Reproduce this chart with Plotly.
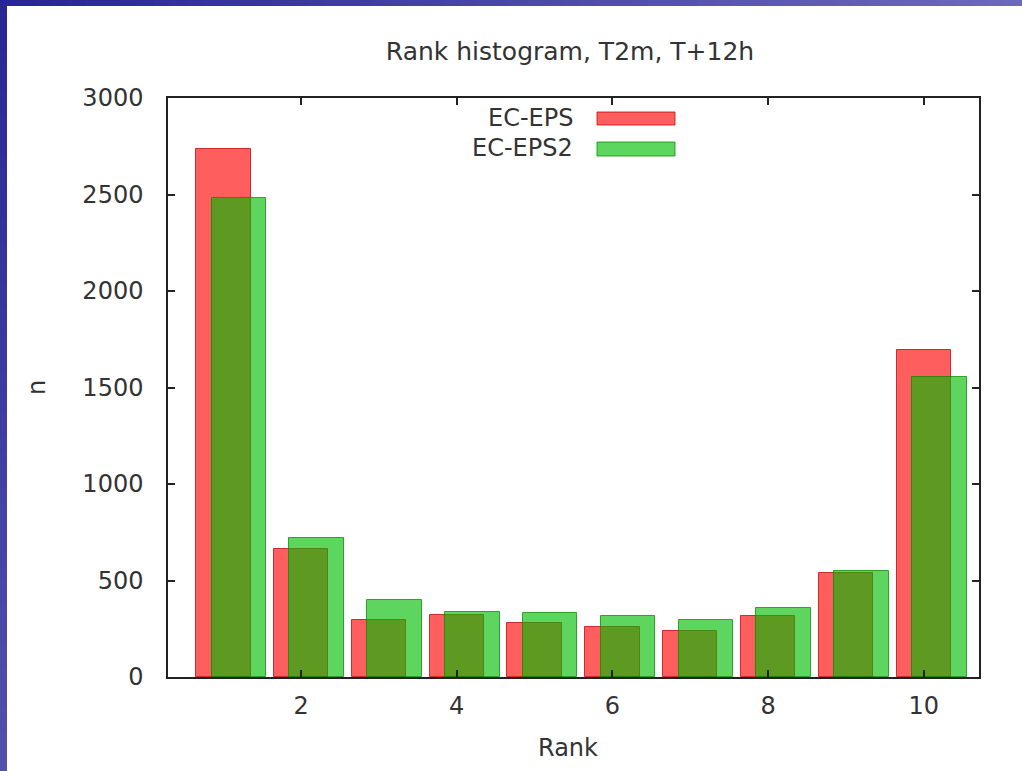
import plotly.graph_objects as go

# Rank histogram counts for 2 m temperature at T+12h
ranks = [1, 2, 3, 4, 5, 6, 7, 8, 9, 10]
ec_eps = [2736, 663, 297, 323, 281, 257, 240, 314, 537, 1692]
ec_eps2 = [2480, 720, 397, 338, 330, 314, 297, 355, 547, 1557]
series_names = ["EC-EPS", "EC-EPS2"]
y_ticks = [0, 500, 1000, 1500, 2000, 2500, 3000]
x_ticks = [2, 4, 6, 8, 10]

W, H = 1022, 771
L, R, T, B = 168, 43, 98, 94
PW, PH = W - L - R, H - T - B

FONT = "DejaVu Sans"
TXT = "#333333"
RED_FILL = "rgba(255,0,0,0.63)"
RED_LINE = "rgba(190,0,0,0.75)"
GREEN_FILL = "rgba(0,188,0,0.63)"
GREEN_LINE = "rgba(0,140,0,0.75)"


def px_x(px):
    return (px - L) / PW


def px_y(py):
    return (H - B - py) / PH


fig = go.Figure()
fig.add_trace(go.Bar(
    x=ranks, y=ec_eps, name=series_names[0], width=0.7, offset=-0.35,
    marker=dict(color=RED_FILL, line=dict(color=RED_LINE, width=1)),
))
fig.add_trace(go.Bar(
    x=ranks, y=ec_eps2, name=series_names[1], width=0.7, offset=-0.15,
    marker=dict(color=GREEN_FILL, line=dict(color=GREEN_LINE, width=1)),
))

shapes = []
# slide-style gradient border along the top and left edges
n = 60
c0 = (38, 38, 150)
c_top = (108, 104, 192)
c_left = (82, 80, 172)
for i in range(n):
    t = i / (n - 1)
    col = tuple(int(round(c0[k] + (c_top[k] - c0[k]) * t)) for k in range(3))
    x0 = W * i / n
    x1 = W * (i + 1) / n + 1
    shapes.append(dict(type="rect", xref="paper", yref="paper", layer="below",
                       x0=px_x(x0), x1=px_x(x1), y0=px_y(6), y1=px_y(0),
                       fillcolor="rgb(%d,%d,%d)" % col, line=dict(width=0)))
for i in range(n):
    t = i / (n - 1)
    col = tuple(int(round(c0[k] + (c_left[k] - c0[k]) * t)) for k in range(3))
    y0 = H * i / n
    y1 = H * (i + 1) / n + 1
    shapes.append(dict(type="rect", xref="paper", yref="paper", layer="below",
                       x0=px_x(0), x1=px_x(7), y0=px_y(y1), y1=px_y(y0),
                       fillcolor="rgb(%d,%d,%d)" % col, line=dict(width=0)))

# key samples drawn to the right of the labels
key_rows = [(112, 125, RED_FILL, RED_LINE), (142, 156, GREEN_FILL, GREEN_LINE)]
for (ya, yb, fc, lc) in key_rows:
    shapes.append(dict(type="rect", xref="paper", yref="paper",
                       x0=px_x(597), x1=px_x(675), y0=px_y(yb), y1=px_y(ya),
                       fillcolor=fc, line=dict(color=lc, width=1)))

annotations = []
for name, yc in zip(series_names, [118, 148]):
    annotations.append(dict(text=name, xref="paper", yref="paper",
                            x=px_x(575), y=px_y(yc), xanchor="right", yanchor="middle",
                            showarrow=False, font=dict(family=FONT, size=24, color=TXT)))
annotations.append(dict(text="Rank", xref="paper", yref="paper",
                        x=px_x(568), y=px_y(748), xanchor="center", yanchor="middle",
                        showarrow=False, font=dict(family=FONT, size=24, color=TXT)))
annotations.append(dict(text="n", xref="paper", yref="paper", textangle=-90,
                        x=px_x(37), y=px_y(388), xanchor="center", yanchor="middle",
                        showarrow=False, font=dict(family=FONT, size=24, color=TXT)))

fig.update_layout(
    width=W, height=H,
    margin=dict(l=L, r=R, t=T, b=B),
    paper_bgcolor="white", plot_bgcolor="white",
    barmode="overlay", bargap=0,
    showlegend=False,
    title=dict(text="Rank histogram, T2m, T+12h", x=570 / W, xref="container",
               xanchor="center", y=1 - 51 / H, yref="container", yanchor="middle",
               font=dict(family=FONT, size=25, color=TXT)),
    font=dict(family=FONT, size=24, color=TXT),
    shapes=shapes,
    annotations=annotations,
)
fig.update_xaxes(range=[0.29, 10.71], tickvals=x_ticks, ticks="inside", ticklen=7,
                 tickwidth=1.5, tickcolor="#222", showline=True, linecolor="#222",
                 linewidth=1.5, mirror="ticks", showgrid=False, zeroline=False,
                 ticklabelstandoff=6, tickfont=dict(family=FONT, size=24, color=TXT))
fig.update_yaxes(range=[0, 3000], tickvals=y_ticks, ticks="inside", ticklen=7,
                 tickwidth=1.5, tickcolor="#222", showline=True, linecolor="#222",
                 linewidth=1.5, mirror="ticks", showgrid=False, zeroline=False,
                 ticklabelstandoff=18, tickfont=dict(family=FONT, size=24, color=TXT))

fig.write_html("out.html")
